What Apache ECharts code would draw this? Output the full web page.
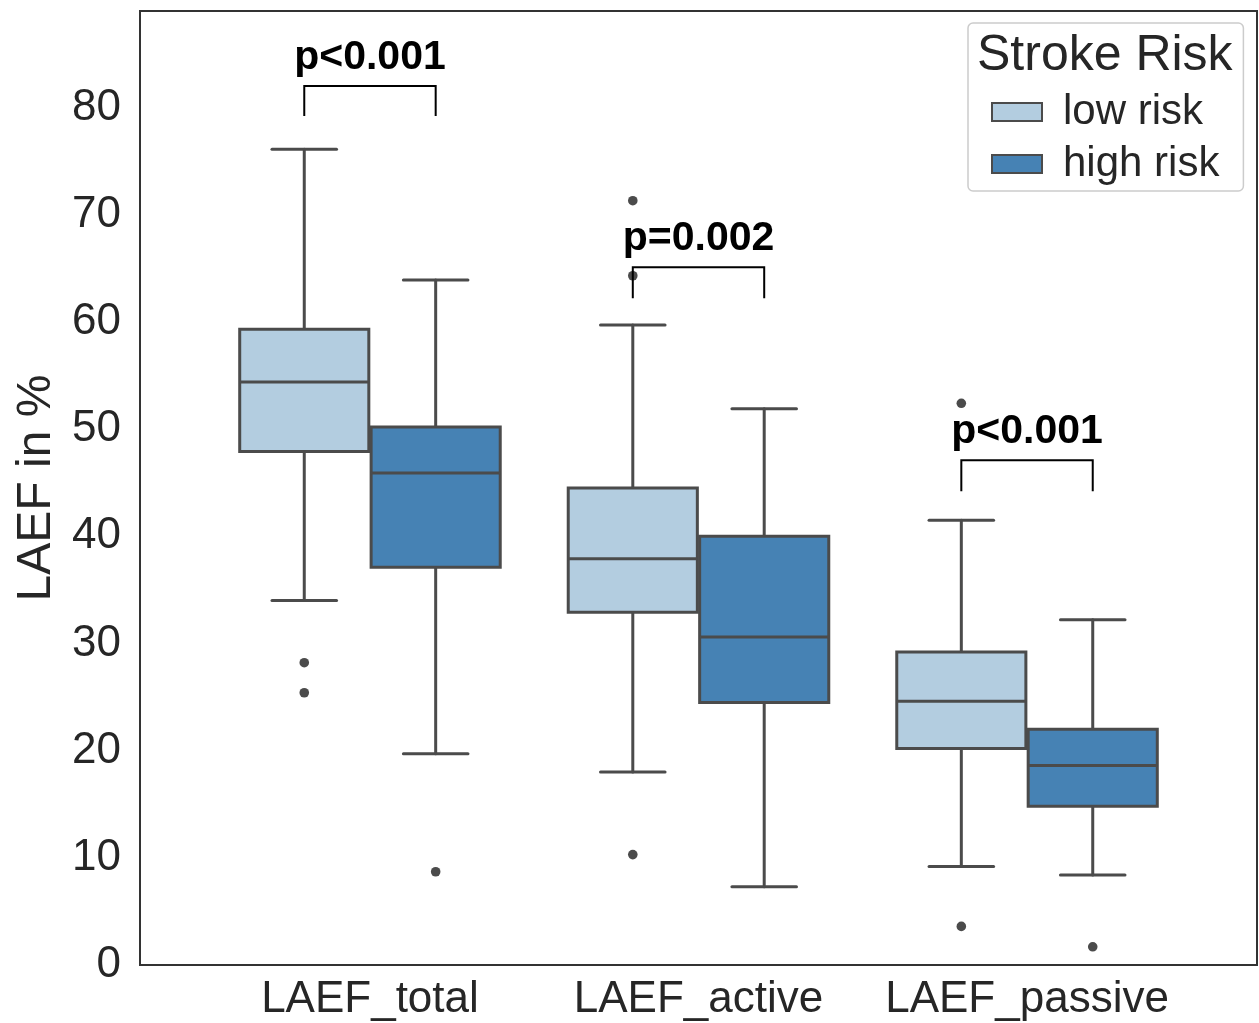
<!DOCTYPE html>
<html>
<head>
<meta charset="utf-8">
<script src="https://cdn.jsdelivr.net/npm/echarts@6/dist/echarts.min.js"></script>
<style>
  html, body { margin: 0; padding: 0; background: #fff; }
  #chart { width: 1259px; height: 1023px; }
</style>
</head>
<body>
<div id="chart"></div>
<script>
// groups on the x axis
var categories = ['LAEF_total', 'LAEF_active', 'LAEF_passive'];
var yTicks = [0, 10, 20, 30, 40, 50, 60, 70, 80];

// low risk box stats
var lowMin = [34.0, 18.0, 9.2];
var lowQ1 = [47.9, 32.9, 20.2];
var lowMed = [54.4, 37.9, 24.6];
var lowQ3 = [59.3, 44.5, 29.2];
var lowMax = [76.1, 59.7, 41.5];
var lowOutliers = [[0, 28.2], [0, 25.4], [1, 71.3], [1, 64.3], [1, 10.3], [2, 52.4], [2, 3.6]];

// high risk box stats
var highMin = [19.7, 7.3, 8.4];
var highQ1 = [37.1, 24.5, 14.8];
var highMed = [45.9, 30.6, 18.6];
var highQ3 = [50.2, 40.0, 22.0];
var highMax = [63.9, 51.9, 32.2];
var highOutliers = [[0, 8.7], [2, 1.7]];

// significance brackets
var pText = ['p<0.001', 'p=0.002', 'p<0.001'];
var bracketTop = [82.0, 65.1, 47.1];
var bracketBottom = [79.2, 62.2, 44.2];

var LINE = '#4b4b4b';
var DODGE = 0.2;
var BOX_W = 0.393;

function boxData(mins, q1s, meds, q3s, maxs) {
    var data = [];
    for (let i = 0; i < categories.length; i++) {
        data.push([i, mins[i], q1s[i], meds[i], q3s[i], maxs[i]]);
    }
    return data;
}

function boxSeries(name, color, data, dodge) {
    return {
        name: name,
        type: 'custom',
        itemStyle: { color: color, borderColor: LINE, borderWidth: 2 },
        data: data,
        renderItem: function (params, api) {
            var g = api.value(0) + dodge;
            var pMin = api.coord([g, api.value(1)]);
            var pQ1 = api.coord([g, api.value(2)]);
            var pMed = api.coord([g, api.value(3)]);
            var pQ3 = api.coord([g, api.value(4)]);
            var pMax = api.coord([g, api.value(5)]);
            var half = api.size([BOX_W, 0])[0] / 2;
            var cap = half / 2;
            var x = pMed[0];
            var ls = { stroke: LINE, lineWidth: 3, lineCap: 'round' };
            return {
                type: 'group',
                children: [
                    { type: 'line', shape: { x1: x, y1: pMax[1], x2: x, y2: pQ3[1] }, style: ls },
                    { type: 'line', shape: { x1: x, y1: pQ1[1], x2: x, y2: pMin[1] }, style: ls },
                    { type: 'line', shape: { x1: x - cap, y1: pMax[1], x2: x + cap, y2: pMax[1] }, style: ls },
                    { type: 'line', shape: { x1: x - cap, y1: pMin[1], x2: x + cap, y2: pMin[1] }, style: ls },
                    { type: 'rect', shape: { x: x - half, y: pQ3[1], width: half * 2, height: pQ1[1] - pQ3[1] },
                      style: { fill: color, stroke: LINE, lineWidth: 3 } },
                    { type: 'line', shape: { x1: x - half, y1: pMed[1], x2: x + half, y2: pMed[1] }, style: { stroke: LINE, lineWidth: 3 } }
                ]
            };
        }
    };
}

function outlierSeries(data, dodge) {
    return {
        type: 'custom',
        data: data,
        renderItem: function (params, api) {
            var p = api.coord([api.value(0) + dodge, api.value(1)]);
            return { type: 'circle', shape: { cx: p[0], cy: p[1], r: 4.8 }, style: { fill: LINE } };
        }
    };
}

var bracketData = [];
for (let i = 0; i < categories.length; i++) {
    bracketData.push([i, bracketBottom[i], bracketTop[i], pText[i]]);
}

var chart = echarts.init(document.getElementById('chart'));
var option = {
    animation: false,
    title: {
        text: 'Stroke Risk',
        left: 972,
        top: 26,
        z: 10,
        textStyle: { fontFamily: 'Liberation Sans', fontSize: 50, fontWeight: 'normal', color: '#262626' }
    },
    legend: {
        data: ['low risk', 'high risk'],
        orient: 'vertical',
        left: 968,
        top: 23,
        padding: [68, 24, 6, 23],
        itemGap: 10,
        itemWidth: 50,
        itemHeight: 18,
        icon: 'rect',
        borderColor: '#cccccc',
        borderWidth: 1.5,
        borderRadius: 5,
        backgroundColor: '#ffffff',
        itemStyle: { borderColor: LINE, borderWidth: 2 },
        textStyle: { fontFamily: 'Liberation Sans', fontSize: 42, lineHeight: 42, color: '#262626', padding: [0, 0, 0, 16] }
    },
    grid: {
        left: 140,
        right: 2,
        top: 11,
        bottom: 58,
        show: true,
        borderColor: '#333333',
        borderWidth: 2
    },
    xAxis: {
        type: 'value',
        min: -0.7,
        max: 2.7,
        axisLine: { show: false },
        axisTick: { show: false },
        splitLine: { show: false },
        axisLabel: {
            customValues: [0, 1, 2],
            formatter: function (v) { return categories[Math.round(v)]; },
            margin: 13,
            fontFamily: 'Liberation Sans',
            fontSize: 44,
            color: '#262626'
        }
    },
    yAxis: {
        type: 'value',
        min: 0,
        max: 89,
        interval: 10,
        name: 'LAEF in %',
        nameLocation: 'middle',
        nameGap: 76,
        nameTextStyle: { fontFamily: 'Liberation Sans', fontSize: 48, color: '#262626' },
        axisLine: { show: false },
        axisTick: { show: false },
        splitLine: { show: false },
        axisLabel: {
            customValues: yTicks,
            margin: 19,
            padding: [5, 0, 0, 0],
            fontFamily: 'Liberation Sans',
            fontSize: 44,
            color: '#262626'
        }
    },
    series: [
        boxSeries('low risk', '#b3cde0', boxData(lowMin, lowQ1, lowMed, lowQ3, lowMax), -DODGE),
        boxSeries('high risk', '#4682b4', boxData(highMin, highQ1, highMed, highQ3, highMax), DODGE),
        outlierSeries(lowOutliers, -DODGE),
        outlierSeries(highOutliers, DODGE),
        {
            type: 'custom',
            data: bracketData,
            renderItem: function (params, api) {
                var g = api.value(0);
                var l0 = api.coord([g - DODGE, api.value(1)]);
                var l1 = api.coord([g - DODGE, api.value(2)]);
                var r1 = api.coord([g + DODGE, api.value(2)]);
                var r0 = api.coord([g + DODGE, api.value(1)]);
                return {
                    type: 'group',
                    children: [
                        { type: 'polyline', shape: { points: [l0, l1, r1, r0] }, style: { stroke: '#000', lineWidth: 2, fill: 'none' } },
                        { type: 'text', x: (l1[0] + r1[0]) / 2, y: l1[1] - 8,
                          style: { text: bracketData[params.dataIndex][3], align: 'center', verticalAlign: 'bottom',
                                   fontFamily: 'Liberation Sans', fontSize: 41, fontWeight: 'bold', fill: '#000' } }
                    ]
                };
            }
        }
    ]
};
chart.setOption(option);
</script>
</body>
</html>
